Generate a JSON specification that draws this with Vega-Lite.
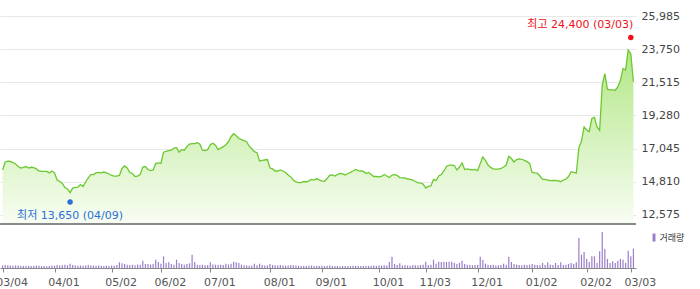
{
  "$schema": "https://vega.github.io/schema/vega-lite/v6.json",
  "width": 636,
  "height": 252,
  "autosize": {"type": "none"},
  "padding": {"left": 0, "top": 16, "right": 64, "bottom": 21},
  "background": "#ffffff",
  "config": {
    "view": {"stroke": null},
    "font": "DejaVu Sans, Noto Sans CJK KR",
    "axis": {"labelFont": "DejaVu Sans", "labelFontSize": 11}
  },
  "datasets": {
    "ticks": [
      {"d": "2025-03-04"}, {"d": "2025-04-01"}, {"d": "2025-05-02"}, {"d": "2025-06-02"},
      {"d": "2025-07-01"}, {"d": "2025-08-01"}, {"d": "2025-09-01"}, {"d": "2025-10-01"},
      {"d": "2025-11-03"}, {"d": "2025-12-01"}, {"d": "2026-01-02"}, {"d": "2026-02-02"},
      {"d": "2026-03-03"}
    ],
    "marks": [
      {"d": "2025-04-09", "p": 13650, "t": "최저 13,650 (04/09)", "k": "min"},
      {"d": "2026-03-03", "p": 24400, "t": "최고 24,400 (03/03)", "k": "max"}
    ]
  },
  "data": {"values": [
    {"d":"2025-03-04","p":15610,"v":250},{"d":"2025-03-05","p":16150,"v":300},{"d":"2025-03-06","p":16210,"v":280},{"d":"2025-03-07","p":16180,"v":250},
    {"d":"2025-03-10","p":16110,"v":230},{"d":"2025-03-11","p":16010,"v":260},{"d":"2025-03-12","p":15840,"v":240},{"d":"2025-03-13","p":15740,"v":220},
    {"d":"2025-03-14","p":15780,"v":200},{"d":"2025-03-17","p":15840,"v":230},{"d":"2025-03-18","p":15740,"v":210},{"d":"2025-03-19","p":15790,"v":200},
    {"d":"2025-03-20","p":15760,"v":190},{"d":"2025-03-21","p":15680,"v":260},{"d":"2025-03-24","p":15540,"v":230},{"d":"2025-03-25","p":15510,"v":200},
    {"d":"2025-03-26","p":15510,"v":190},{"d":"2025-03-27","p":15510,"v":180},{"d":"2025-03-28","p":15410,"v":200},{"d":"2025-03-31","p":15540,"v":250},
    {"d":"2025-04-01","p":15410,"v":230},{"d":"2025-04-02","p":14930,"v":300},{"d":"2025-04-03","p":14830,"v":260},{"d":"2025-04-04","p":14700,"v":280},
    {"d":"2025-04-07","p":14430,"v":330},{"d":"2025-04-08","p":14330,"v":280},{"d":"2025-04-09","p":14080,"v":430},{"d":"2025-04-10","p":14390,"v":300},
    {"d":"2025-04-11","p":14430,"v":260},{"d":"2025-04-14","p":14460,"v":230},{"d":"2025-04-15","p":14630,"v":250},{"d":"2025-04-16","p":14500,"v":220},
    {"d":"2025-04-17","p":14800,"v":240},{"d":"2025-04-18","p":15070,"v":300},{"d":"2025-04-21","p":15300,"v":260},{"d":"2025-04-22","p":15300,"v":240},
    {"d":"2025-04-23","p":15410,"v":230},{"d":"2025-04-24","p":15440,"v":260},{"d":"2025-04-25","p":15410,"v":220},{"d":"2025-04-28","p":15470,"v":210},
    {"d":"2025-04-29","p":15410,"v":230},{"d":"2025-04-30","p":15340,"v":200},{"d":"2025-05-02","p":15240,"v":250},{"d":"2025-05-07","p":15200,"v":220},
    {"d":"2025-05-08","p":15200,"v":300},{"d":"2025-05-09","p":15240,"v":570},{"d":"2025-05-12","p":15710,"v":470},{"d":"2025-05-13","p":15880,"v":400},
    {"d":"2025-05-14","p":15740,"v":330},{"d":"2025-05-15","p":15440,"v":300},{"d":"2025-05-16","p":15370,"v":330},{"d":"2025-05-19","p":15170,"v":280},
    {"d":"2025-05-20","p":15200,"v":350},{"d":"2025-05-21","p":15300,"v":330},{"d":"2025-05-22","p":15810,"v":730},{"d":"2025-05-23","p":15840,"v":400},
    {"d":"2025-05-26","p":15640,"v":400},{"d":"2025-05-27","p":15570,"v":330},{"d":"2025-05-28","p":15610,"v":400},{"d":"2025-05-29","p":16050,"v":830},
    {"d":"2025-05-30","p":16080,"v":600},{"d":"2025-06-02","p":16050,"v":430},{"d":"2025-06-04","p":16810,"v":1170},{"d":"2025-06-05","p":16870,"v":500},
    {"d":"2025-06-09","p":16910,"v":570},{"d":"2025-06-10","p":16940,"v":400},{"d":"2025-06-11","p":17080,"v":330},{"d":"2025-06-12","p":17110,"v":830},
    {"d":"2025-06-13","p":16810,"v":500},{"d":"2025-06-16","p":16980,"v":400},{"d":"2025-06-17","p":16940,"v":330},{"d":"2025-06-18","p":17180,"v":400},
    {"d":"2025-06-19","p":17350,"v":470},{"d":"2025-06-20","p":17380,"v":1330},{"d":"2025-06-23","p":17380,"v":600},{"d":"2025-06-24","p":17450,"v":330},
    {"d":"2025-06-25","p":17350,"v":300},{"d":"2025-06-26","p":16940,"v":330},{"d":"2025-06-27","p":16920,"v":270},{"d":"2025-06-30","p":16980,"v":300},
    {"d":"2025-07-01","p":17310,"v":570},{"d":"2025-07-02","p":17410,"v":350},{"d":"2025-07-03","p":17280,"v":330},{"d":"2025-07-04","p":16980,"v":300},
    {"d":"2025-07-07","p":17080,"v":330},{"d":"2025-07-08","p":17180,"v":300},{"d":"2025-07-09","p":17310,"v":430},{"d":"2025-07-10","p":17510,"v":350},
    {"d":"2025-07-11","p":17850,"v":430},{"d":"2025-07-14","p":18050,"v":630},{"d":"2025-07-15","p":17920,"v":570},{"d":"2025-07-16","p":17750,"v":500},
    {"d":"2025-07-17","p":17650,"v":330},{"d":"2025-07-18","p":17580,"v":270},{"d":"2025-07-21","p":17510,"v":250},{"d":"2025-07-22","p":17210,"v":230},
    {"d":"2025-07-23","p":17040,"v":260},{"d":"2025-07-24","p":16840,"v":430},{"d":"2025-07-25","p":16770,"v":280},{"d":"2025-07-28","p":16210,"v":430},
    {"d":"2025-07-29","p":16250,"v":300},{"d":"2025-07-30","p":16280,"v":260},{"d":"2025-07-31","p":16310,"v":250},{"d":"2025-08-01","p":15740,"v":400},
    {"d":"2025-08-04","p":15680,"v":300},{"d":"2025-08-05","p":15540,"v":270},{"d":"2025-08-06","p":15540,"v":250},{"d":"2025-08-07","p":15610,"v":300},
    {"d":"2025-08-08","p":15540,"v":260},{"d":"2025-08-11","p":15440,"v":230},{"d":"2025-08-12","p":15270,"v":250},{"d":"2025-08-13","p":15140,"v":300},
    {"d":"2025-08-14","p":14930,"v":270},{"d":"2025-08-18","p":14800,"v":250},{"d":"2025-08-19","p":14760,"v":230},{"d":"2025-08-20","p":14760,"v":210},
    {"d":"2025-08-21","p":14830,"v":230},{"d":"2025-08-22","p":14800,"v":200},{"d":"2025-08-25","p":14870,"v":220},{"d":"2025-08-26","p":14970,"v":250},
    {"d":"2025-08-27","p":14930,"v":210},{"d":"2025-08-28","p":15030,"v":230},{"d":"2025-08-29","p":14930,"v":200},{"d":"2025-09-01","p":14870,"v":220},
    {"d":"2025-09-02","p":14850,"v":200},{"d":"2025-09-03","p":15030,"v":230},{"d":"2025-09-04","p":15240,"v":250},{"d":"2025-09-05","p":15270,"v":210},
    {"d":"2025-09-08","p":15200,"v":190},{"d":"2025-09-09","p":15300,"v":200},{"d":"2025-09-10","p":15370,"v":180},{"d":"2025-09-11","p":15340,"v":200},
    {"d":"2025-09-12","p":15270,"v":190},{"d":"2025-09-15","p":15370,"v":210},{"d":"2025-09-16","p":15450,"v":200},{"d":"2025-09-17","p":15540,"v":230},
    {"d":"2025-09-18","p":15640,"v":210},{"d":"2025-09-19","p":15570,"v":200},{"d":"2025-09-22","p":15540,"v":190},{"d":"2025-09-23","p":15510,"v":200},
    {"d":"2025-09-24","p":15370,"v":220},{"d":"2025-09-25","p":15440,"v":200},{"d":"2025-09-26","p":15300,"v":230},{"d":"2025-09-29","p":15170,"v":250},
    {"d":"2025-09-30","p":15170,"v":220},{"d":"2025-10-01","p":15140,"v":250},{"d":"2025-10-02","p":15170,"v":230},{"d":"2025-10-10","p":15300,"v":280},
    {"d":"2025-10-13","p":15200,"v":250},{"d":"2025-10-14","p":15100,"v":600},{"d":"2025-10-15","p":15270,"v":1130},{"d":"2025-10-16","p":15300,"v":400},
    {"d":"2025-10-17","p":15240,"v":300},{"d":"2025-10-20","p":15100,"v":470},{"d":"2025-10-21","p":15070,"v":250},{"d":"2025-10-22","p":15070,"v":300},
    {"d":"2025-10-23","p":15000,"v":250},{"d":"2025-10-24","p":14970,"v":230},{"d":"2025-10-27","p":14930,"v":300},{"d":"2025-10-28","p":14830,"v":280},
    {"d":"2025-10-29","p":14760,"v":250},{"d":"2025-10-30","p":14730,"v":300},{"d":"2025-10-31","p":14660,"v":330},{"d":"2025-11-03","p":14390,"v":630},
    {"d":"2025-11-04","p":14500,"v":300},{"d":"2025-11-05","p":14530,"v":330},{"d":"2025-11-06","p":14970,"v":830},{"d":"2025-11-07","p":14900,"v":430},
    {"d":"2025-11-10","p":15200,"v":630},{"d":"2025-11-11","p":15300,"v":600},{"d":"2025-11-12","p":15540,"v":630},{"d":"2025-11-13","p":15840,"v":600},
    {"d":"2025-11-14","p":15940,"v":630},{"d":"2025-11-17","p":15940,"v":630},{"d":"2025-11-18","p":15910,"v":500},{"d":"2025-11-19","p":15610,"v":400},
    {"d":"2025-11-20","p":15810,"v":500},{"d":"2025-11-21","p":16080,"v":730},{"d":"2025-11-24","p":15640,"v":400},{"d":"2025-11-25","p":15680,"v":330},
    {"d":"2025-11-26","p":15640,"v":300},{"d":"2025-11-27","p":15610,"v":270},{"d":"2025-11-28","p":15640,"v":300},{"d":"2025-12-01","p":15570,"v":300},
    {"d":"2025-12-02","p":16050,"v":1130},{"d":"2025-12-03","p":16480,"v":800},{"d":"2025-12-04","p":16250,"v":430},{"d":"2025-12-05","p":15940,"v":330},
    {"d":"2025-12-08","p":15780,"v":300},{"d":"2025-12-09","p":15680,"v":330},{"d":"2025-12-10","p":15660,"v":250},{"d":"2025-12-11","p":15660,"v":270},
    {"d":"2025-12-12","p":15710,"v":300},{"d":"2025-12-15","p":15810,"v":430},{"d":"2025-12-16","p":15940,"v":330},{"d":"2025-12-17","p":16520,"v":1130},
    {"d":"2025-12-18","p":16380,"v":600},{"d":"2025-12-19","p":16150,"v":400},{"d":"2025-12-22","p":16310,"v":330},{"d":"2025-12-23","p":16350,"v":300},
    {"d":"2025-12-24","p":16330,"v":270},{"d":"2025-12-26","p":16250,"v":330},{"d":"2025-12-29","p":16170,"v":300},{"d":"2025-12-30","p":16050,"v":330},
    {"d":"2026-01-02","p":15440,"v":400},{"d":"2026-01-05","p":15410,"v":330},{"d":"2026-01-06","p":15390,"v":300},{"d":"2026-01-07","p":15200,"v":270},
    {"d":"2026-01-08","p":14980,"v":500},{"d":"2026-01-09","p":14970,"v":300},{"d":"2026-01-12","p":14930,"v":570},{"d":"2026-01-13","p":14890,"v":330},
    {"d":"2026-01-14","p":14900,"v":300},{"d":"2026-01-15","p":14910,"v":500},{"d":"2026-01-16","p":14880,"v":300},{"d":"2026-01-19","p":14820,"v":570},
    {"d":"2026-01-20","p":14930,"v":300},{"d":"2026-01-21","p":15000,"v":330},{"d":"2026-01-22","p":15170,"v":400},{"d":"2026-01-23","p":15490,"v":500},
    {"d":"2026-01-26","p":15440,"v":400},{"d":"2026-01-27","p":15390,"v":570},{"d":"2026-01-28","p":17120,"v":3000},{"d":"2026-01-29","p":17560,"v":1330},
    {"d":"2026-01-30","p":18510,"v":1600},{"d":"2026-02-02","p":18300,"v":900},{"d":"2026-02-03","p":18190,"v":600},{"d":"2026-02-04","p":19080,"v":1170},
    {"d":"2026-02-05","p":19150,"v":1170},{"d":"2026-02-06","p":18510,"v":500},{"d":"2026-02-09","p":18270,"v":1670},{"d":"2026-02-10","p":21350,"v":3600},
    {"d":"2026-02-11","p":22100,"v":1900},{"d":"2026-02-12","p":21050,"v":900},{"d":"2026-02-13","p":21000,"v":500},{"d":"2026-02-19","p":21000,"v":670},
    {"d":"2026-02-20","p":20980,"v":500},{"d":"2026-02-23","p":21200,"v":730},{"d":"2026-02-24","p":21650,"v":900},{"d":"2026-02-25","p":22450,"v":830},
    {"d":"2026-02-26","p":22350,"v":500},{"d":"2026-02-27","p":23700,"v":1730},{"d":"2026-03-03","p":23450,"v":1170},{"d":"2026-03-04","p":21550,"v":1930}
  ]},
  "encoding": {
    "x": {
      "field": "d",
      "type": "ordinal",
      "title": null,
      "scale": {"type": "point", "padding": 1},
      "axis": {
        "values": ["2025-03-04","2025-04-01","2025-05-02","2025-06-02","2025-07-01","2025-08-01","2025-09-01","2025-10-01","2025-11-03","2025-12-01","2026-01-02","2026-02-02","2026-03-03"],
        "labelExpr": "substring(datum.value, 5, 7) + '/' + substring(datum.value, 8, 10)",
        "labelAngle": 0,
        "labelAlign": "center",
        "labelOffset": 9,
        "labelColor": "#555555",
        "labelPadding": 4,
        "labelOverlap": false,
        "labelFlush": false,
        "labelBound": false,
        "tickSize": 4,
        "tickColor": "#888888",
        "domainColor": "#888888",
        "grid": false
      }
    }
  },
  "layer": [
    {
      "encoding": {
        "y": {
          "field": "p",
          "type": "quantitative",
          "title": null,
          "scale": {"domain": [9003, 25985], "nice": false, "zero": false},
          "axis": {
            "orient": "right",
            "values": [12575, 14810, 17045, 19280, 21515, 23750, 25985],
            "format": ",.0f",
            "labelColor": "#444444",
            "labelPadding": 5,
            "ticks": false,
            "domain": false,
            "grid": true,
            "gridColor": "#e8e8e8",
            "gridWidth": 1
          }
        }
      },
      "layer": [
        {
          "data": {"name": "ticks"},
          "mark": {"type": "rule", "color": "#e8e8e8", "strokeWidth": 1},
          "encoding": {
            "y": {"datum": 25985, "type": "quantitative"},
            "y2": {"datum": 11960}
          }
        },
        {
          "mark": {
            "type": "area",
            "color": {
              "gradient": "linear",
              "x1": 0, "y1": 0, "x2": 0, "y2": 1,
              "stops": [
                {"offset": 0, "color": "#b2e786"},
                {"offset": 1, "color": "#f8fdf3"}
              ]
            }
          },
          "encoding": {"y2": {"datum": 11960}}
        },
        {
          "mark": {"type": "line", "color": "#6cc830", "strokeWidth": 1.3},
          "encoding": {}
        },
        {
          "mark": {"type": "rule", "color": "#8a8a8a", "strokeWidth": 1},
          "encoding": {"x": null, "y": {"datum": 11960, "type": "quantitative"}}
        },
        {
          "data": {"name": "marks"},
          "transform": [{"filter": "datum.k == 'min'"}],
          "layer": [
            {
              "mark": {"type": "point", "filled": true, "color": "#2a6fd6", "size": 30, "opacity": 1},
              "encoding": {"yOffset": {"value": 3}}
            },
            {
              "mark": {"type": "text", "color": "#2a6fd6", "fontSize": 11, "align": "center", "baseline": "middle", "font": "DejaVu Sans, Noto Sans CJK KR"},
              "encoding": {"text": {"field": "t"}, "yOffset": {"value": 17}}
            }
          ]
        },
        {
          "data": {"name": "marks"},
          "transform": [{"filter": "datum.k == 'max'"}],
          "layer": [
            {
              "mark": {"type": "point", "filled": true, "color": "#f0101a", "size": 30, "opacity": 1},
              "encoding": {"yOffset": {"value": -2}}
            },
            {
              "mark": {"type": "text", "color": "#f0101a", "fontSize": 11, "align": "right", "baseline": "middle", "font": "DejaVu Sans, Noto Sans CJK KR"},
              "encoding": {"text": {"field": "t"}, "yOffset": {"value": -14.5}, "xOffset": {"value": 2.5}}
            }
          ]
        }
      ]
    },
    {
      "mark": {"type": "bar", "width": 1.2},
      "encoding": {
        "y": {
          "field": "v",
          "type": "quantitative",
          "scale": {"domain": [0, 25200], "nice": false},
          "axis": null
        },
        "color": {
          "datum": "거래량",
          "scale": {"range": ["#9a7ecb"]},
          "legend": {
            "orient": "none",
            "legendX": 649.5,
            "legendY": 217,
            "title": null,
            "padding": 0,
            "symbolType": "M-0.375,-1H0.375V1H-0.375Z",
            "symbolSize": 64,
            "symbolStrokeWidth": 0,
            "symbolOpacity": 1,
            "labelFont": "Noto Sans CJK KR",
            "labelFontSize": 9,
            "labelColor": "#333333",
            "labelOffset": 1
          }
        }
      }
    }
  ],
  "resolve": {"scale": {"y": "independent"}}
}
